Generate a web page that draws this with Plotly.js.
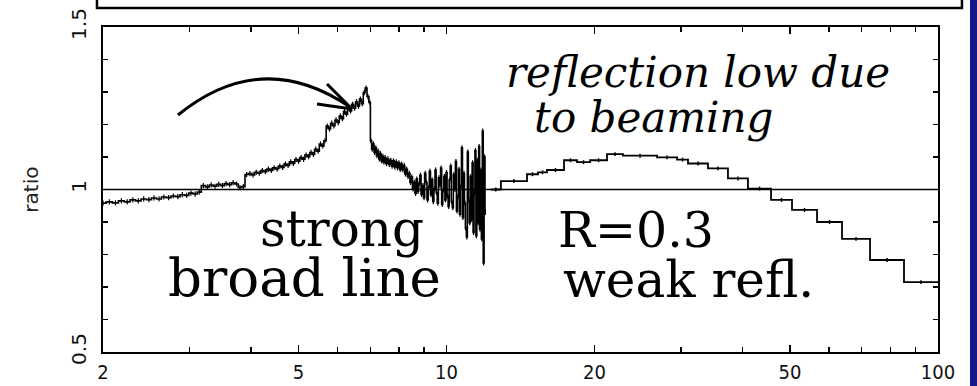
<!DOCTYPE html>
<html>
<head>
<meta charset="utf-8">
<script src="https://cdn.plot.ly/plotly-3.0.1.min.js"></script>
<style>
  html, body { margin: 0; padding: 0; background: #fff; }
  #chart { width: 977px; height: 386px; }
</style>
</head>
<body>
<div id="chart"></div>
<script>
// Low-energy ratio spectrum (keV, data/model ratio)
const energyLow = [
  2.00, 2.06, 2.12, 2.18, 2.24, 2.30, 2.36, 2.42, 2.48, 2.54, 2.60, 2.66, 2.72, 2.78, 2.84, 2.90, 2.96, 3.02, 3.08, 3.14,
  3.20, 3.26, 3.32, 3.38, 3.44, 3.50, 3.56, 3.62, 3.68, 3.74, 3.80, 3.86, 3.92, 3.98, 4.04, 4.10, 4.16, 4.22, 4.28, 4.34,
  4.40, 4.46, 4.52, 4.58, 4.64, 4.70, 4.76, 4.82, 4.88, 4.94, 5.00, 5.06, 5.12, 5.18, 5.24, 5.30, 5.36, 5.42, 5.48, 5.54,
  5.60, 5.66, 5.72, 5.78, 5.84, 5.90, 5.96, 6.02, 6.08, 6.14, 6.20, 6.26, 6.32, 6.38, 6.44, 6.50, 6.56, 6.62, 6.68, 6.74,
  6.80, 6.86, 6.92, 6.98, 7.02, 7.06, 7.10, 7.14, 7.18, 7.22, 7.26, 7.30, 7.34, 7.38, 7.42, 7.46, 7.50, 7.55, 7.60, 7.65,
  7.70, 7.75, 7.80, 7.85, 7.90, 7.95, 8.00, 8.05, 8.10, 8.15, 8.20, 8.25, 8.30, 8.35, 8.40, 8.45, 8.50, 8.55, 8.60, 8.65,
  8.70, 8.75, 8.80, 8.85, 8.90, 8.95, 9.00, 9.05, 9.10, 9.15, 9.20, 9.25, 9.30, 9.35, 9.40, 9.45, 9.50, 9.55, 9.60, 9.65,
  9.70, 9.75, 9.80, 9.85, 9.90, 9.95, 10.00, 10.05, 10.10, 10.15, 10.20, 10.25, 10.30, 10.35, 10.40, 10.45, 10.50, 10.55, 10.60, 10.65,
  10.70, 10.75, 10.80, 10.85, 10.90, 10.95, 11.00, 11.05, 11.10, 11.15, 11.20, 11.25, 11.30, 11.35, 11.40, 11.45, 11.50, 11.55, 11.60, 11.65,
  11.70, 11.75, 11.80, 11.85, 11.90, 11.95, 12.00
];
const ratioLow = [
  0.958, 0.962, 0.959, 0.965, 0.962, 0.968, 0.965, 0.971, 0.969, 0.974, 0.971, 0.977, 0.975, 0.980, 0.978, 0.984, 0.982, 0.989, 0.986, 0.992,
  1.012, 1.008, 1.014, 1.010, 1.016, 1.012, 1.018, 1.015, 1.021, 1.017, 1.006, 1.009, 1.046, 1.049, 1.045, 1.053, 1.050, 1.058, 1.055, 1.063,
  1.059, 1.067, 1.063, 1.072, 1.068, 1.078, 1.074, 1.085, 1.080, 1.092, 1.087, 1.098, 1.093, 1.106, 1.101, 1.114, 1.108, 1.124, 1.118, 1.140,
  1.134, 1.150, 1.195, 1.186, 1.204, 1.196, 1.214, 1.206, 1.226, 1.218, 1.240, 1.232, 1.252, 1.242, 1.262, 1.250, 1.270, 1.256, 1.278, 1.264,
  1.298, 1.312, 1.286, 1.268, 1.150, 1.124, 1.140, 1.114, 1.128, 1.104, 1.118, 1.094, 1.110, 1.088, 1.102, 1.084, 1.098, 1.080, 1.094, 1.077,
  1.090, 1.072, 1.088, 1.069, 1.085, 1.067, 1.082, 1.062, 1.078, 1.060, 1.074, 1.048, 1.062, 1.040, 1.050, 1.022, 1.038, 1.002, 1.022, 0.988,
  1.032, 0.994, 1.018, 1.044, 0.985, 1.012, 0.975, 1.050, 1.022, 0.968, 1.006, 1.056, 0.984, 1.030, 0.963, 1.002, 1.060, 0.990, 0.958, 1.036,
  1.012, 1.066, 0.954, 0.998, 1.040, 0.968, 1.052, 0.980, 0.948, 1.030, 1.072, 0.962, 0.944, 1.046, 1.000, 1.086, 0.934, 0.978, 1.062, 0.924,
  1.010, 1.128, 0.914, 1.050, 0.958, 0.880, 0.854, 1.115, 0.968, 0.898, 1.040, 0.908, 1.082, 0.868, 0.990, 1.120, 0.858, 1.090, 0.898, 1.132,
  0.878, 1.060, 0.848, 1.180, 0.774, 1.100, 0.930
];
const errLow = 0.008;

// High-energy binned ratio (bin edges in keV, one ratio per bin)
const binEdges = [12.30, 12.90, 14.58, 15.35, 16.01, 17.34, 18.43, 19.59, 21.21, 22.86, 26.82, 29.45,
                  31.00, 34.04, 37.38, 41.05, 45.74, 50.46, 56.74, 63.78, 72.73, 85.28, 100];
const binRatio = [1.000, 1.026, 1.047, 1.053, 1.060, 1.090, 1.084, 1.090, 1.109, 1.104, 1.099,
                  1.092, 1.080, 1.065, 1.034, 1.003, 0.968, 0.937, 0.900, 0.848, 0.783, 0.715];
const errHigh = 0.006;

// Axis ticks
const xTickVals = [2, 5, 10, 20, 50, 100];
const xTickText = ['2', '5', '10', '20', '50', '100'];
const xMinorVals = [3, 4, 6, 7, 8, 9, 30, 40, 60, 70, 80, 90];
const yTickVals = [0.5, 1, 1.5];
const yTickText = ['0.5', '1', '1.5'];
const yMinorVals = [0.6, 0.7, 0.8, 0.9, 1.1, 1.2, 1.3, 1.4];

// Step trace for the binned part: repeat the last value to close the final bin
const stepX = binEdges.slice();
const stepY = binRatio.concat([binRatio[binRatio.length - 1]]);
const binCenters = binRatio.map((_, i) => Math.sqrt(binEdges[i] * binEdges[i + 1]));

const traces = [
  {
    x: energyLow, y: ratioLow, type: 'scatter', mode: 'lines',
    line: { color: '#000', width: 1.6, shape: 'hvh' },
    error_y: { type: 'constant', value: errLow, color: '#000', thickness: 1.2, width: 0 },
    hoverinfo: 'x+y'
  },
  {
    x: stepX, y: stepY, type: 'scatter', mode: 'lines',
    line: { color: '#000', width: 1.8, shape: 'hv' },
    hoverinfo: 'skip'
  },
  {
    x: binCenters, y: binRatio, type: 'scatter', mode: 'markers',
    marker: { size: 1, color: '#000' },
    error_y: { type: 'constant', value: errHigh, color: '#000', thickness: 1.5, width: 0 },
    hoverinfo: 'x+y'
  }
];

const serif = 'DejaVu Serif, Liberation Serif, serif';

const layout = {
  width: 977, height: 386,
  margin: { l: 103, r: 39, t: 27, b: 34 },
  paper_bgcolor: '#ffffff', plot_bgcolor: '#ffffff',
  showlegend: false,
  xaxis: {
    type: 'log', range: [Math.log10(2), 2],
    tickmode: 'array', tickvals: xTickVals, ticktext: xTickText,
    ticks: 'inside', ticklen: 7, tickwidth: 1.5, tickcolor: '#000',
    minor: { tickvals: xMinorVals, ticks: 'inside', ticklen: 5, tickwidth: 1.2, tickcolor: '#000' },
    showline: true, linewidth: 1.6, linecolor: '#000', mirror: 'ticks',
    showgrid: false, zeroline: false,
    tickfont: { family: 'DejaVu Sans Condensed, Liberation Sans, sans-serif', size: 20, color: '#111' },
    ticklabelstandoff: 1
  },
  yaxis: {
    range: [0.5, 1.5],
    tickmode: 'array', tickvals: yTickVals, ticktext: yTickText, tickangle: -90,
    ticks: 'inside', ticklen: 6, tickwidth: 1.5, tickcolor: '#000',
    minor: { tickvals: yMinorVals, ticks: 'inside', ticklen: 5, tickwidth: 1.2, tickcolor: '#000' },
    showline: true, linewidth: 1.6, linecolor: '#000', mirror: 'ticks',
    showgrid: false, zeroline: false,
    tickfont: { family: 'DejaVu Sans, Liberation Sans, sans-serif', size: 20, color: '#111' },
    ticklabelstandoff: 7
  },
  shapes: [
    // unity reference line
    { type: 'line', xref: 'paper', yref: 'y', x0: 0, x1: 1, y0: 1, y1: 1,
      line: { color: '#000', width: 1.5 } },
    // hand-drawn curved arrow pointing at the line peak
    { type: 'path', xref: 'paper', yref: 'paper',
      path: 'M 0.0898,0.7292 Q 0.1904,0.9385 0.2958,0.7538 M 0.2683,0.8246 L 0.2982,0.7477 M 0.2563,0.7631 L 0.2982,0.7477',
      line: { color: '#000', width: 3 } },
    // lower edge of the panel above
    { type: 'path', xref: 'paper', yref: 'paper',
      path: 'M -0.0072,1.2 L -0.0072,1.0585 L 1.0287,1.0585 L 1.0287,1.2',
      line: { color: '#000', width: 2.5 } },
    // slide background strip on the right
    { type: 'rect', xref: 'paper', yref: 'paper', x0: 1.0383, x1: 1.06, y0: -0.2, y1: 1.2,
      fillcolor: '#17178a', line: { width: 0 } }
  ],
  annotations: [
    { text: 'ratio', xref: 'paper', yref: 'paper', x: -0.104, y: 0.5, textangle: -90,
      showarrow: false, font: { family: 'DejaVu Sans, sans-serif', size: 20, color: '#222' } },
    { text: 'reflection low due', xref: 'paper', yref: 'paper', x: 0.480, y: 0.860,
      xanchor: 'left', yanchor: 'middle', showarrow: false,
      font: { family: serif, size: 42, style: 'italic', color: '#000' } },
    { text: 'to beaming', xref: 'paper', yref: 'paper', x: 0.514, y: 0.722,
      xanchor: 'left', yanchor: 'middle', showarrow: false,
      font: { family: serif, size: 42, style: 'italic', color: '#000' } },
    { text: 'strong', xref: 'paper', yref: 'paper', x: 0.186, y: 0.380,
      xanchor: 'left', yanchor: 'middle', showarrow: false,
      font: { family: serif, size: 50, color: '#000' } },
    { text: 'broad line', xref: 'paper', yref: 'paper', x: 0.076, y: 0.228,
      xanchor: 'left', yanchor: 'middle', showarrow: false,
      font: { family: serif, size: 53, color: '#000' } },
    { text: 'R=0.3', xref: 'paper', yref: 'paper', x: 0.543, y: 0.374,
      xanchor: 'left', yanchor: 'middle', showarrow: false,
      font: { family: serif, size: 49, color: '#000' } },
    { text: 'weak refl.', xref: 'paper', yref: 'paper', x: 0.548, y: 0.222,
      xanchor: 'left', yanchor: 'middle', showarrow: false,
      font: { family: serif, size: 50, color: '#000' } }
  ]
};

Plotly.newPlot('chart', traces, layout, { displayModeBar: false, staticPlot: true });
</script>
</body>
</html>
